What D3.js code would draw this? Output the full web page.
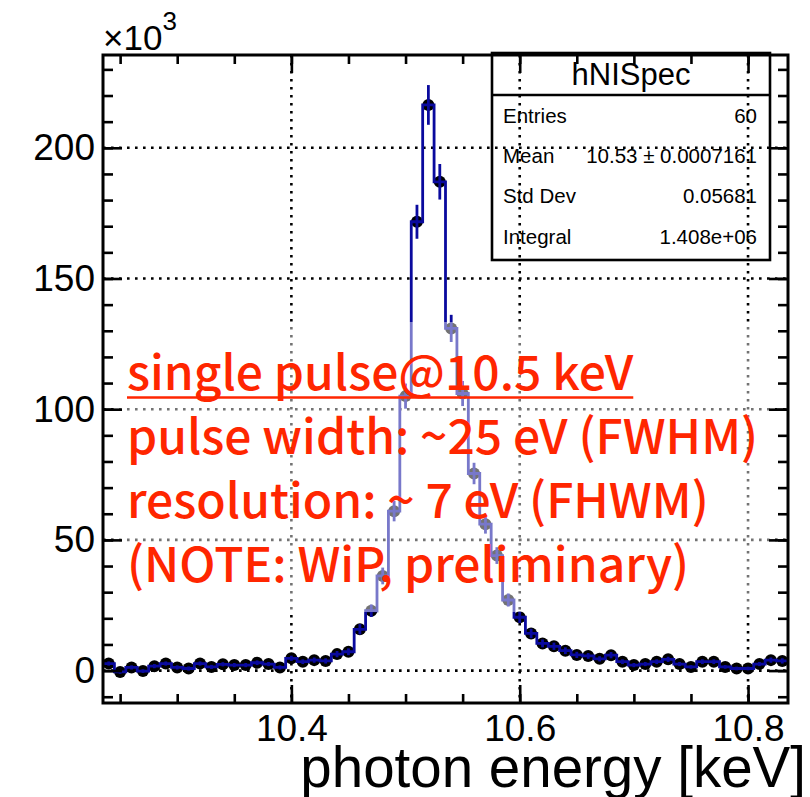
<!DOCTYPE html>
<html><head><meta charset="utf-8">
<script src="https://cdn.jsdelivr.net/npm/d3@7"></script>
<style>body{margin:0;background:#fff}</style>
</head><body><div id="chart"></div>
<script>
// histogram definition: 60 bins of 10 eV starting at 10.235 keV, contents in units of 1e3
const binLo = 10.235, binW = 0.01;
const counts = [2.7, -0.5, 1.2, -0.2, 1.7, 2.7, 1.2, 0.8, 2.7, 1.4,
  2.4, 2.1, 2.1, 3.0, 2.5, 1.2, 4.7, 3.4, 4.0, 3.7,
  6.3, 7.2, 15.8, 22.9, 36.2, 61.0, 105.0, 171.7, 216.4, 187.0,
  130.9, 106.0, 75.4, 56.0, 44.0, 27.0, 20.4, 14.2, 10.4, 9.3,
  7.6, 6.0, 5.6, 4.5, 5.9, 3.4, 2.1, 2.5, 3.4, 4.3,
  2.5, 1.4, 3.4, 3.4, 1.4, 0.8, 0.8, 2.5, 4.0, 3.7];
const errs = [0.8, 0.7, 0.8, 0.7, 0.8, 0.8, 0.8, 0.8, 0.8, 0.8,
  0.8, 0.8, 0.8, 0.9, 0.8, 0.8, 1.0, 0.9, 1.0, 1.0,
  1.2, 1.3, 2.0, 2.4, 3.2, 3.9, 4.8, 6.5, 7.6, 6.8,
  5.2, 4.8, 4.1, 3.6, 3.2, 2.5, 2.2, 1.8, 1.5, 1.4,
  1.3, 1.2, 1.1, 1.0, 1.2, 0.9, 0.8, 0.8, 0.9, 1.0,
  0.8, 0.7, 0.9, 0.9, 0.7, 0.7, 0.7, 0.8, 1.0, 1.0];
const xMajor = [10.4, 10.6, 10.8];
const yMajor = [0, 50, 100, 150, 200];
const yRange = [-12.4, 235.5];
const statNames = ['Entries', 'Mean', 'Std Dev', 'Integral'];
const statVals = ['60', '10.53 \u00b1 0.0007161', '0.05681', '1.408e+06'];
const histName = 'hNISpec';
const notes = ['single pulse@10.5 keV', 'pulse width: ~25 eV (FWHM)', 'resolution: ~ 7 eV (FHWM)', '(NOTE: WiP, preliminary)'];
const xTitle = 'photon energy [keV]';

const FONT = '"Liberation Sans", Arial, Helvetica, sans-serif';
const JFONT = '"Noto Sans CJK JP", "Noto Sans", sans-serif';
const BLUE = '#0a0a9e', RED = '#ff2600';
const W = 810, H = 797, m = { t: 55, r: 22, b: 94, l: 103 };

const svg = d3.select('#chart').append('svg').attr('width', W).attr('height', H)
  .style('display', 'block');

const x = d3.scaleLinear().domain([binLo, binLo + counts.length * binW]).range([m.l, W - m.r]);
const y = d3.scaleLinear().domain(yRange).range([H - m.b, m.t]);
const xMinor = x.ticks(12);
const yMinor = y.ticks(25);

// dotted grid
const grid = svg.append('g').attr('stroke', '#000').attr('stroke-width', 2.6).attr('stroke-dasharray', '2.6,5.4');
grid.selectAll('line.gx').data(xMajor).join('line').attr('class', 'gx')
  .attr('x1', x).attr('x2', x).attr('y1', m.t).attr('y2', H - m.b);
grid.selectAll('line.gy').data(yMajor).join('line').attr('class', 'gy')
  .attr('x1', m.l).attr('x2', W - m.r).attr('y1', y).attr('y2', y);

// histogram: markers, step line, error bars
const centers = counts.map((c, i) => binLo + (i + 0.5) * binW);
svg.append('g').selectAll('circle').data(counts).join('circle')
  .attr('cx', (d, i) => x(centers[i])).attr('cy', (d) => y(d)).attr('r', 6).attr('fill', '#000');
const steps = counts.map((c, i) => [binLo + i * binW, c]);
steps.push([binLo + counts.length * binW, counts[counts.length - 1]]);
svg.append('path').datum(steps)
  .attr('d', d3.line().x((d) => x(d[0])).y((d) => y(d[1])).curve(d3.curveStepAfter))
  .attr('fill', 'none').attr('stroke', BLUE).attr('stroke-width', 2.8);
svg.append('g').selectAll('line').data(counts).join('line')
  .attr('x1', (d, i) => x(centers[i])).attr('x2', (d, i) => x(centers[i]))
  .attr('y1', (d, i) => y(d - errs[i])).attr('y2', (d, i) => y(d + errs[i]))
  .attr('stroke', BLUE).attr('stroke-width', 2.8);

// translucent note box
svg.append('rect').attr('x', 116).attr('y', 322).attr('width', 654).attr('height', 290)
  .attr('fill', '#fff').attr('fill-opacity', 0.45);
const noteG = svg.append('g').attr('font-family', JFONT).attr('font-size', 48)
  .attr('font-weight', 500).attr('fill', RED);
noteG.selectAll('text').data(notes).join('text')
  .attr('x', 127).attr('y', (d, i) => 390 + i * 64).text((d) => d);
const w0 = noteG.select('text').node().getComputedTextLength();
svg.append('line').attr('x1', 127).attr('x2', 127 + w0).attr('y1', 397.5).attr('y2', 397.5)
  .attr('stroke', RED).attr('stroke-width', 2.5);

// axes (ROOT style: ticks inside, on all four sides)
const styleAx = (g) => { g.select('.domain').remove(); g.selectAll('line').attr('stroke', '#000').attr('stroke-width', 2.6); };
const labAx = (g) => g.selectAll('text').attr('font-family', FONT).attr('font-size', 37).attr('fill', '#000');
svg.append('g').attr('transform', `translate(0,${H - m.b})`)
  .call(d3.axisBottom(x).tickValues(xMinor).tickSize(-9).tickFormat('')).call(styleAx);
svg.append('g').attr('transform', `translate(0,${H - m.b})`)
  .call(d3.axisBottom(x).tickValues(xMajor).tickSize(-18).tickPadding(12).tickFormat(d3.format('.1f')))
  .call(styleAx).call(labAx);
svg.append('g').attr('transform', `translate(0,${m.t})`)
  .call(d3.axisTop(x).tickValues(xMinor).tickSize(-9).tickFormat('')).call(styleAx);
svg.append('g').attr('transform', `translate(0,${m.t})`)
  .call(d3.axisTop(x).tickValues(xMajor).tickSize(-18).tickFormat('')).call(styleAx);
svg.append('g').attr('transform', `translate(${m.l},0)`)
  .call(d3.axisLeft(y).tickValues(yMinor).tickSize(-10).tickFormat('')).call(styleAx);
svg.append('g').attr('transform', `translate(${m.l},0)`)
  .call(d3.axisLeft(y).tickValues(yMajor).tickSize(-19).tickPadding(8).tickFormat(d3.format('d')))
  .call(styleAx).call(labAx);
svg.append('g').attr('transform', `translate(${W - m.r},0)`)
  .call(d3.axisRight(y).tickValues(yMinor).tickSize(-10).tickFormat('')).call(styleAx);
svg.append('g').attr('transform', `translate(${W - m.r},0)`)
  .call(d3.axisRight(y).tickValues(yMajor).tickSize(-19).tickFormat('')).call(styleAx);

// frame
svg.append('rect').attr('x', m.l).attr('y', m.t).attr('width', W - m.l - m.r).attr('height', H - m.t - m.b)
  .attr('fill', 'none').attr('stroke', '#000').attr('stroke-width', 3);

// x10^3 multiplier
const mult = svg.append('text').attr('x', m.l).attr('y', 50).attr('font-family', FONT).attr('fill', '#000');
mult.append('tspan').attr('font-size', 35).text('\u00d710');
mult.append('tspan').attr('font-size', 26).attr('dy', -20).text('3');

// x title
svg.append('text').attr('x', 806).attr('y', 787).attr('text-anchor', 'end')
  .attr('font-family', FONT).attr('font-size', 56.5).attr('fill', '#000').text(xTitle);

// stats box
const sb = { x: 492, y: 53, w: 278, h: 207 };
const st = svg.append('g');
st.append('rect').attr('x', sb.x).attr('y', sb.y).attr('width', sb.w).attr('height', sb.h)
  .attr('fill', 'none').attr('stroke', '#000').attr('stroke-width', 2.6);
st.append('line').attr('x1', sb.x).attr('x2', sb.x + sb.w).attr('y1', 95).attr('y2', 95)
  .attr('stroke', '#000').attr('stroke-width', 2.6);
st.append('text').attr('x', sb.x + sb.w / 2).attr('y', 85).attr('text-anchor', 'middle')
  .attr('font-family', FONT).attr('font-size', 31).text(histName);
const rowY = [123, 163, 203, 244];
st.selectAll('text.sn').data(statNames).join('text').attr('class', 'sn')
  .attr('x', 503).attr('y', (d, i) => rowY[i]).attr('font-family', FONT).attr('font-size', 20.5).text((d) => d);
st.selectAll('text.sv').data(statVals).join('text').attr('class', 'sv')
  .attr('x', 757).attr('y', (d, i) => rowY[i]).attr('text-anchor', 'end')
  .attr('font-family', FONT).attr('font-size', 20.5).text((d) => d);
</script></body></html>
